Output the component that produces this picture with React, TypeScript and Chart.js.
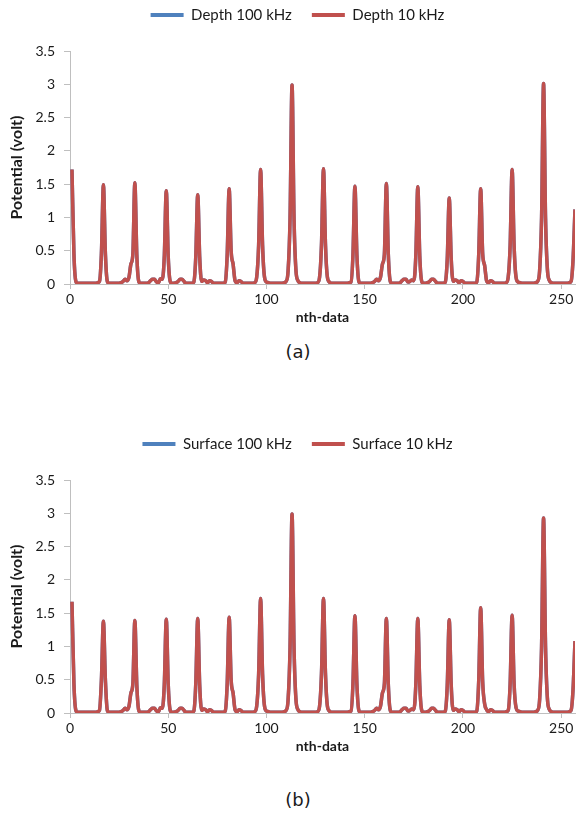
import React, { useEffect, useRef } from "react";
import { Chart, registerables } from "chart.js";

Chart.register(...registerables);

// ---------- data ----------
const xTicks = [0, 50, 100, 150, 200, 250];
const yTicks = [0, 0.5, 1, 1.5, 2, 2.5, 3, 3.5];
const xRange = [0, 257];
const yRange = [0, 3.5];

const depthLabels = ["Depth 100 kHz", "Depth 10 kHz"];
const surfaceLabels = ["Surface 100 kHz", "Surface 10 kHz"];
const captions = ["(a)", "(b)"];

// values for nth-data = 1 .. 257
const depth10kHz = [
  1.72, 0.45, 0.04, 0.01, 0.01, 0.01, 0.01, 0.01, 0.01, 0.01, 0.01, 0.01, 0.01, 0.02, 0.04, 0.46,
  1.49, 0.46, 0.04, 0.01, 0.01, 0.01, 0.01, 0.01, 0.01, 0.02, 0.04, 0.07, 0.05, 0.1, 0.3, 0.45,
  1.52, 0.44, 0.04, 0.01, 0.01, 0.01, 0.01, 0.02, 0.05, 0.07, 0.07, 0.03, 0.02, 0.08, 0.07, 0.42,
  1.4, 0.4, 0.04, 0.01, 0.01, 0.02, 0.04, 0.07, 0.07, 0.04, 0.01, 0.01, 0.01, 0.01, 0.03, 0.4,
  1.34, 0.4, 0.04, 0.06, 0.05, 0.02, 0.05, 0.04, 0.01, 0.01, 0.01, 0.01, 0.01, 0.01, 0.03, 0.44,
  1.43, 0.5, 0.3, 0.05, 0.02, 0.05, 0.04, 0.01, 0.01, 0.01, 0.01, 0.01, 0.01, 0.02, 0.1, 0.58,
  1.72, 0.58, 0.1, 0.03, 0.02, 0.01, 0.01, 0.01, 0.01, 0.01, 0.01, 0.01, 0.02, 0.04, 0.2, 1.0,
  2.99, 1.0, 0.2, 0.05, 0.02, 0.01, 0.01, 0.01, 0.01, 0.01, 0.01, 0.01, 0.01, 0.02, 0.1, 0.6,
  1.73, 0.6, 0.1, 0.03, 0.01, 0.01, 0.01, 0.01, 0.01, 0.01, 0.01, 0.01, 0.01, 0.02, 0.03, 0.44,
  1.47, 0.44, 0.04, 0.01, 0.01, 0.01, 0.01, 0.01, 0.01, 0.02, 0.04, 0.07, 0.05, 0.1, 0.3, 0.45,
  1.51, 0.44, 0.04, 0.01, 0.01, 0.01, 0.01, 0.02, 0.05, 0.07, 0.07, 0.03, 0.04, 0.06, 0.05, 0.43,
  1.46, 0.42, 0.04, 0.01, 0.01, 0.02, 0.04, 0.07, 0.07, 0.04, 0.01, 0.01, 0.01, 0.01, 0.03, 0.38,
  1.29, 0.38, 0.04, 0.06, 0.05, 0.02, 0.05, 0.04, 0.01, 0.01, 0.01, 0.01, 0.01, 0.01, 0.03, 0.44,
  1.43, 0.46, 0.28, 0.05, 0.02, 0.05, 0.04, 0.01, 0.01, 0.01, 0.01, 0.01, 0.01, 0.02, 0.1, 0.58,
  1.72, 0.58, 0.1, 0.03, 0.02, 0.01, 0.01, 0.01, 0.01, 0.01, 0.01, 0.01, 0.02, 0.04, 0.2, 1.0,
  3.01, 1.0, 0.2, 0.05, 0.02, 0.01, 0.01, 0.01, 0.01, 0.01, 0.01, 0.01, 0.01, 0.02, 0.04, 0.36,
  1.12,
];
// the 100 kHz trace lies under the 10 kHz trace everywhere in the picture
const depth100kHz = [
  1.72, 0.45, 0.04, 0.01, 0.01, 0.01, 0.01, 0.01, 0.01, 0.01, 0.01, 0.01, 0.01, 0.02, 0.04, 0.46,
  1.49, 0.46, 0.04, 0.01, 0.01, 0.01, 0.01, 0.01, 0.01, 0.02, 0.04, 0.07, 0.05, 0.1, 0.3, 0.45,
  1.52, 0.44, 0.04, 0.01, 0.01, 0.01, 0.01, 0.02, 0.05, 0.07, 0.07, 0.03, 0.02, 0.08, 0.07, 0.42,
  1.4, 0.4, 0.04, 0.01, 0.01, 0.02, 0.04, 0.07, 0.07, 0.04, 0.01, 0.01, 0.01, 0.01, 0.03, 0.4,
  1.34, 0.4, 0.04, 0.06, 0.05, 0.02, 0.05, 0.04, 0.01, 0.01, 0.01, 0.01, 0.01, 0.01, 0.03, 0.44,
  1.43, 0.5, 0.3, 0.05, 0.02, 0.05, 0.04, 0.01, 0.01, 0.01, 0.01, 0.01, 0.01, 0.02, 0.1, 0.58,
  1.72, 0.58, 0.1, 0.03, 0.02, 0.01, 0.01, 0.01, 0.01, 0.01, 0.01, 0.01, 0.02, 0.04, 0.2, 1.0,
  2.99, 1.0, 0.2, 0.05, 0.02, 0.01, 0.01, 0.01, 0.01, 0.01, 0.01, 0.01, 0.01, 0.02, 0.1, 0.6,
  1.73, 0.6, 0.1, 0.03, 0.01, 0.01, 0.01, 0.01, 0.01, 0.01, 0.01, 0.01, 0.01, 0.02, 0.03, 0.44,
  1.47, 0.44, 0.04, 0.01, 0.01, 0.01, 0.01, 0.01, 0.01, 0.02, 0.04, 0.07, 0.05, 0.1, 0.3, 0.45,
  1.51, 0.44, 0.04, 0.01, 0.01, 0.01, 0.01, 0.02, 0.05, 0.07, 0.07, 0.03, 0.04, 0.06, 0.05, 0.43,
  1.46, 0.42, 0.04, 0.01, 0.01, 0.02, 0.04, 0.07, 0.07, 0.04, 0.01, 0.01, 0.01, 0.01, 0.03, 0.38,
  1.29, 0.38, 0.04, 0.06, 0.05, 0.02, 0.05, 0.04, 0.01, 0.01, 0.01, 0.01, 0.01, 0.01, 0.03, 0.44,
  1.43, 0.46, 0.28, 0.05, 0.02, 0.05, 0.04, 0.01, 0.01, 0.01, 0.01, 0.01, 0.01, 0.02, 0.1, 0.58,
  1.72, 0.58, 0.1, 0.03, 0.02, 0.01, 0.01, 0.01, 0.01, 0.01, 0.01, 0.01, 0.02, 0.04, 0.2, 1.0,
  3.01, 1.0, 0.2, 0.05, 0.02, 0.01, 0.01, 0.01, 0.01, 0.01, 0.01, 0.01, 0.01, 0.02, 0.04, 0.36,
  1.12,
];

const surface10kHz = [
  1.67, 0.44, 0.04, 0.01, 0.01, 0.01, 0.01, 0.01, 0.01, 0.01, 0.01, 0.01, 0.01, 0.02, 0.04, 0.5,
  1.38, 0.5, 0.04, 0.01, 0.01, 0.01, 0.01, 0.01, 0.01, 0.02, 0.04, 0.07, 0.05, 0.1, 0.3, 0.44,
  1.39, 0.42, 0.04, 0.01, 0.01, 0.01, 0.01, 0.02, 0.05, 0.07, 0.07, 0.03, 0.02, 0.08, 0.07, 0.43,
  1.41, 0.42, 0.04, 0.01, 0.01, 0.02, 0.04, 0.07, 0.07, 0.04, 0.01, 0.01, 0.01, 0.01, 0.03, 0.43,
  1.42, 0.42, 0.04, 0.06, 0.05, 0.02, 0.05, 0.04, 0.01, 0.01, 0.01, 0.01, 0.01, 0.01, 0.03, 0.44,
  1.44, 0.5, 0.3, 0.05, 0.02, 0.05, 0.04, 0.01, 0.01, 0.01, 0.01, 0.01, 0.01, 0.02, 0.1, 0.58,
  1.72, 0.58, 0.1, 0.03, 0.02, 0.01, 0.01, 0.01, 0.01, 0.01, 0.01, 0.01, 0.02, 0.04, 0.2, 1.0,
  2.99, 1.0, 0.2, 0.05, 0.02, 0.01, 0.01, 0.01, 0.01, 0.01, 0.01, 0.01, 0.01, 0.02, 0.1, 0.6,
  1.72, 0.6, 0.1, 0.03, 0.01, 0.01, 0.01, 0.01, 0.01, 0.01, 0.01, 0.01, 0.01, 0.02, 0.03, 0.44,
  1.46, 0.44, 0.04, 0.01, 0.01, 0.01, 0.01, 0.01, 0.01, 0.02, 0.04, 0.07, 0.05, 0.1, 0.3, 0.44,
  1.42, 0.42, 0.04, 0.01, 0.01, 0.01, 0.01, 0.02, 0.05, 0.07, 0.07, 0.03, 0.04, 0.06, 0.05, 0.43,
  1.42, 0.42, 0.04, 0.01, 0.01, 0.02, 0.04, 0.07, 0.07, 0.04, 0.01, 0.01, 0.01, 0.01, 0.03, 0.42,
  1.4, 0.42, 0.04, 0.06, 0.05, 0.02, 0.05, 0.04, 0.01, 0.01, 0.01, 0.01, 0.01, 0.01, 0.03, 0.48,
  1.58, 0.48, 0.14, 0.05, 0.02, 0.05, 0.04, 0.01, 0.01, 0.01, 0.01, 0.01, 0.01, 0.02, 0.04, 0.44,
  1.47, 0.44, 0.08, 0.03, 0.02, 0.01, 0.01, 0.01, 0.01, 0.01, 0.01, 0.01, 0.02, 0.04, 0.2, 1.0,
  2.93, 1.0, 0.2, 0.05, 0.02, 0.01, 0.01, 0.01, 0.01, 0.01, 0.01, 0.01, 0.01, 0.02, 0.04, 0.35,
  1.08,
];
// the 100 kHz trace lies under the 10 kHz trace everywhere in the picture
const surface100kHz = [
  1.67, 0.44, 0.04, 0.01, 0.01, 0.01, 0.01, 0.01, 0.01, 0.01, 0.01, 0.01, 0.01, 0.02, 0.04, 0.5,
  1.38, 0.5, 0.04, 0.01, 0.01, 0.01, 0.01, 0.01, 0.01, 0.02, 0.04, 0.07, 0.05, 0.1, 0.3, 0.44,
  1.39, 0.42, 0.04, 0.01, 0.01, 0.01, 0.01, 0.02, 0.05, 0.07, 0.07, 0.03, 0.02, 0.08, 0.07, 0.43,
  1.41, 0.42, 0.04, 0.01, 0.01, 0.02, 0.04, 0.07, 0.07, 0.04, 0.01, 0.01, 0.01, 0.01, 0.03, 0.43,
  1.42, 0.42, 0.04, 0.06, 0.05, 0.02, 0.05, 0.04, 0.01, 0.01, 0.01, 0.01, 0.01, 0.01, 0.03, 0.44,
  1.44, 0.5, 0.3, 0.05, 0.02, 0.05, 0.04, 0.01, 0.01, 0.01, 0.01, 0.01, 0.01, 0.02, 0.1, 0.58,
  1.72, 0.58, 0.1, 0.03, 0.02, 0.01, 0.01, 0.01, 0.01, 0.01, 0.01, 0.01, 0.02, 0.04, 0.2, 1.0,
  2.99, 1.0, 0.2, 0.05, 0.02, 0.01, 0.01, 0.01, 0.01, 0.01, 0.01, 0.01, 0.01, 0.02, 0.1, 0.6,
  1.72, 0.6, 0.1, 0.03, 0.01, 0.01, 0.01, 0.01, 0.01, 0.01, 0.01, 0.01, 0.01, 0.02, 0.03, 0.44,
  1.46, 0.44, 0.04, 0.01, 0.01, 0.01, 0.01, 0.01, 0.01, 0.02, 0.04, 0.07, 0.05, 0.1, 0.3, 0.44,
  1.42, 0.42, 0.04, 0.01, 0.01, 0.01, 0.01, 0.02, 0.05, 0.07, 0.07, 0.03, 0.04, 0.06, 0.05, 0.43,
  1.42, 0.42, 0.04, 0.01, 0.01, 0.02, 0.04, 0.07, 0.07, 0.04, 0.01, 0.01, 0.01, 0.01, 0.03, 0.42,
  1.4, 0.42, 0.04, 0.06, 0.05, 0.02, 0.05, 0.04, 0.01, 0.01, 0.01, 0.01, 0.01, 0.01, 0.03, 0.48,
  1.58, 0.48, 0.14, 0.05, 0.02, 0.05, 0.04, 0.01, 0.01, 0.01, 0.01, 0.01, 0.01, 0.02, 0.04, 0.44,
  1.47, 0.44, 0.08, 0.03, 0.02, 0.01, 0.01, 0.01, 0.01, 0.01, 0.01, 0.01, 0.02, 0.04, 0.2, 1.0,
  2.93, 1.0, 0.2, 0.05, 0.02, 0.01, 0.01, 0.01, 0.01, 0.01, 0.01, 0.01, 0.01, 0.02, 0.04, 0.35,
  1.08,
];

// ---------- styles ----------
const BLUE = "#4F81BD";
const RED = "#C0504D";
const AXIS = "#BFBFBF";
const TEXT = "#1a1a1a";
const FONT = "Lato, 'Open Sans', sans-serif";

const W = 577;
const H = 340;

type PanelProps = {
  top: number;
  labels: string[];
  s100: number[];
  s10: number[];
  caption: string;
  captionTop: number;
};

function Panel({ top, labels, s100, s10, caption, captionTop }: PanelProps) {
  const ref = useRef<HTMLCanvasElement | null>(null);

  useEffect(() => {
    if (!ref.current) return;
    const pts = (arr: number[]) => arr.map((y, i) => ({ x: i + 1, y }));
    const chart = new Chart(ref.current, {
      type: "line",
      data: {
        datasets: [
          {
            label: labels[0],
            data: pts(s100),
            borderColor: BLUE,
            backgroundColor: BLUE,
            borderWidth: 3.5,
            pointRadius: 0,
            cubicInterpolationMode: "monotone",
            xAxisID: "x",
            yAxisID: "y",
            order: 1,
          },
          {
            label: labels[1],
            data: pts(s10),
            borderColor: RED,
            backgroundColor: RED,
            borderWidth: 3.5,
            pointRadius: 0,
            cubicInterpolationMode: "monotone",
            xAxisID: "x",
            yAxisID: "y",
            order: 0,
          },
        ],
      },
      options: {
        animation: false,
        responsive: false,
        maintainAspectRatio: false,
        events: [],
        layout: { padding: { top: -12.5, left: 20, right: 2, bottom: 0 } },
        plugins: {
          tooltip: { enabled: false },
          legend: {
            position: "top",
            labels: {
              boxWidth: 33,
              boxHeight: 4,
              padding: 20,
              color: TEXT,
              font: { family: FONT, size: 15 },
              sort: (a: any, b: any) => a.datasetIndex - b.datasetIndex,
              generateLabels: (c: any) =>
                (Chart.defaults.plugins.legend.labels as any)
                  .generateLabels(c)
                  .map((l: any) => ({ ...l, lineWidth: 0 })),
            },
          },
        },
        scales: {
          x: {
            type: "linear",
            position: "bottom",
            min: xRange[0],
            max: xRange[1],
            afterBuildTicks: (s: any) => {
              s.ticks = xTicks.map((v) => ({ value: v }));
            },
            afterFit: (s: any) => {
              s.height = 56;
            },
            ticks: {
              color: TEXT,
              padding: 2.5,
              font: { family: FONT, size: 14 },
              callback: (v: any) => String(v),
            },
            grid: {
              display: true,
              drawOnChartArea: false,
              drawTicks: true,
              tickLength: 5,
              color: AXIS,
            },
            border: { display: true, color: AXIS, width: 1 },
            title: {
              display: true,
              text: "nth-data",
              color: TEXT,
              font: { family: FONT, size: 14, weight: "bold" },
              padding: { top: 0, bottom: 14 },
            },
          },
          pad: {
            type: "linear",
            position: "top",
            display: true,
            ticks: { display: false },
            grid: { display: false },
            border: { display: false },
            afterFit: (s: any) => {
              s.height = 18.5;
            },
          },
          y: {
            type: "linear",
            position: "left",
            min: yRange[0],
            max: yRange[1],
            afterBuildTicks: (s: any) => {
              s.ticks = yTicks.map((v) => ({ value: v }));
            },
            afterFit: (s: any) => {
              s.width = 50;
            },
            ticks: {
              color: TEXT,
              padding: 9,
              font: { family: FONT, size: 14 },
              callback: (v: any) => String(v),
            },
            grid: {
              display: true,
              drawOnChartArea: false,
              drawTicks: true,
              tickLength: 6,
              color: AXIS,
            },
            border: { display: true, color: AXIS, width: 1 },
            title: {
              display: true,
              text: "Potential (volt)",
              color: TEXT,
              font: { family: FONT, size: 16, weight: "bold" },
              padding: { top: -12.6, bottom: 0 },
            },
          },
        },
      } as any,
    });
    return () => chart.destroy();
  }, []);

  return (
    <>
      <div style={{ position: "absolute", left: 0, top, width: W, height: H }}>
        <canvas ref={ref} width={W} height={H} style={{ display: "block", width: W, height: H }} />
      </div>
      <div
        style={{
          position: "absolute",
          left: 248,
          width: 100,
          top: captionTop,
          textAlign: "center",
          fontFamily: "'DejaVu Sans', sans-serif",
          fontSize: 18,
          lineHeight: "22px",
          color: TEXT,
        }}
      >
        {caption}
      </div>
    </>
  );
}

export default function App() {
  return (
    <div
      style={{
        position: "absolute",
        left: 0,
        top: 0,
        width: W,
        height: 822,
        background: "#fff",
        overflow: "hidden",
      }}
    >
      <Panel top={0} labels={depthLabels} s100={depth100kHz} s10={depth10kHz} caption={captions[0]} captionTop={341} />
      <Panel top={429} labels={surfaceLabels} s100={surface100kHz} s10={surface10kHz} caption={captions[1]} captionTop={789} />
    </div>
  );
}
